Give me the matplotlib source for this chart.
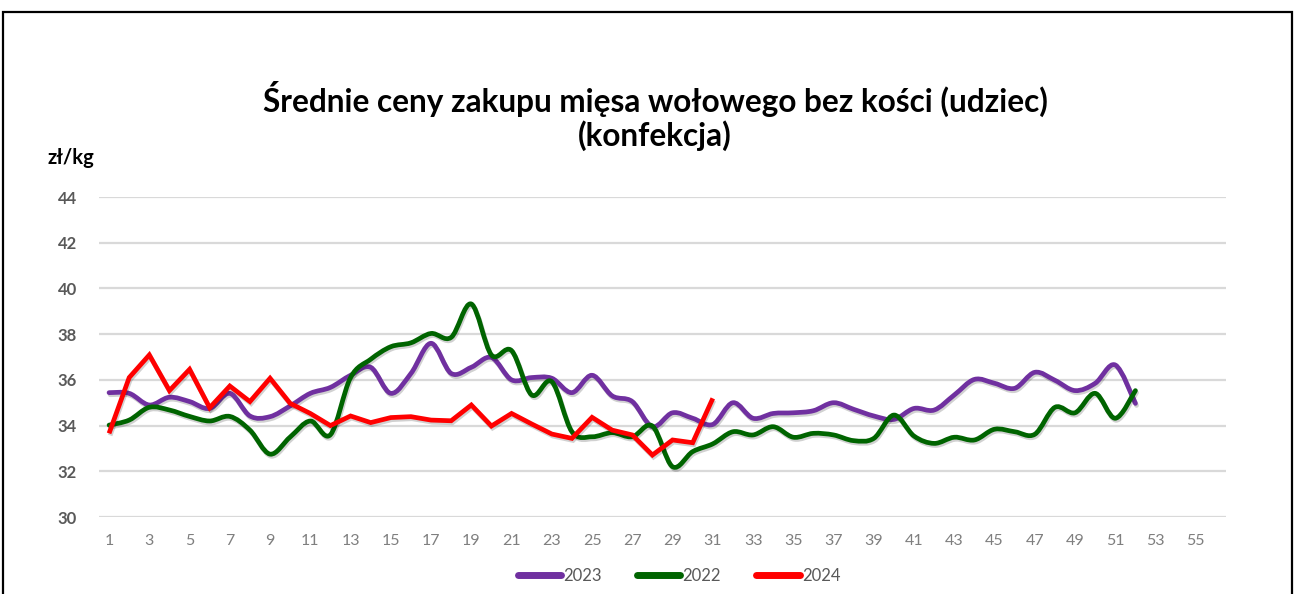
import numpy as np
import matplotlib
matplotlib.use("Agg")
import matplotlib.pyplot as plt
from matplotlib.path import Path
from matplotlib.patches import PathPatch, Rectangle
from matplotlib.lines import Line2D
import matplotlib.patheffects as pe

plt.rcParams['font.family'] = ['Lato', 'DejaVu Sans']

# ------------------------
# Data: average purchase prices (zl/kg) per week
# ------------------------
weeks_2023 = list(range(1, 53))
price_2023 = [35.44, 35.41, 34.90, 35.24, 35.05, 34.75, 35.41, 34.42, 34.39, 34.86,
              35.41, 35.67, 36.20, 36.55, 35.41, 36.28, 37.60, 36.28, 36.55, 36.98,
              36.00, 36.10, 36.07, 35.44, 36.20, 35.30, 35.05, 33.95, 34.56, 34.32,
              34.05, 35.00, 34.32, 34.53, 34.56, 34.65, 35.00, 34.71, 34.42, 34.27,
              34.75, 34.68, 35.34, 36.02, 35.85, 35.63, 36.33, 35.98, 35.53, 35.85,
              36.65, 34.97]

weeks_2022 = list(range(1, 53))
price_2022 = [34.02, 34.24, 34.80, 34.68, 34.40, 34.20, 34.40, 33.80, 32.75, 33.50,
              34.20, 33.60, 36.10, 36.90, 37.45, 37.62, 38.03, 37.86, 39.32, 37.09,
              37.28, 35.34, 35.92, 33.73, 33.51, 33.69, 33.51, 33.98, 32.20, 32.86,
              33.20, 33.73, 33.59, 33.95, 33.49, 33.66, 33.59, 33.34, 33.44, 34.46,
              33.54, 33.22, 33.49, 33.37, 33.84, 33.73, 33.62, 34.80, 34.56, 35.41,
              34.32, 35.53]

weeks_2024 = list(range(1, 32))
price_2024 = [33.66, 36.10, 37.09, 35.53, 36.46, 34.78, 35.73, 35.05, 36.07, 34.97,
              34.53, 34.00, 34.42, 34.13, 34.35, 34.39, 34.24, 34.21, 34.90, 33.98,
              34.53, 34.07, 33.63, 33.44, 34.36, 33.80, 33.59, 32.71, 33.37, 33.25,
              35.19]

x_ticks = list(range(1, 56, 2))
y_ticks = [30, 32, 34, 36, 38, 40, 42, 44]

title_1 = "Średnie ceny zakupu mięsa wołowego bez kości (udziec)"
title_2 = "(konfekcja)"
unit_label = "zł/kg"

c2023 = '#7030A0'
c2022 = '#006400'
c2024 = '#FF0000'


def smooth_path(xs, ys):
    # Excel-style smoothed line: cubic Bezier through every data point
    p = np.column_stack([xs, ys]).astype(float)
    n = len(p)
    verts = [p[0]]
    codes = [Path.MOVETO]
    for i in range(n - 1):
        p0 = p[i - 1] if i > 0 else p[i]
        p3 = p[i + 2] if i + 2 < n else p[i + 1]
        c1 = p[i] + (p[i + 1] - p0) / 6.0
        c2 = p[i + 1] - (p3 - p[i]) / 6.0
        verts += [c1, c2, p[i + 1]]
        codes += [Path.CURVE4] * 3
    return Path(verts, codes)


shadow = [pe.SimpleLineShadow(offset=(0.8, -1.5), alpha=0.18, shadow_color='black'), pe.Normal()]

fig = plt.figure(figsize=(12.96, 5.94), dpi=100)
ax = fig.add_axes([99 / 1296, 1 - 517 / 594, 1127 / 1296, 320 / 594])

for xs, ys, col in [(weeks_2023, price_2023, c2023), (weeks_2022, price_2022, c2022)]:
    patch = PathPatch(smooth_path(xs, ys), facecolor='none', edgecolor=col, lw=3.4,
                      capstyle='round', joinstyle='round', path_effects=shadow, zorder=3)
    ax.add_patch(patch)

ax.plot(weeks_2024, price_2024, color=c2024, lw=3.4, solid_joinstyle='miter',
        solid_capstyle='butt', path_effects=shadow, zorder=4)

ax.set_xlim(0.5, 56.5)
ax.set_ylim(30, 44)
ax.set_xticks(x_ticks)
ax.set_yticks(y_ticks)
ax.tick_params(axis='both', length=0)
ax.tick_params(axis='x', labelsize=11.5, labelcolor='#7f7f7f', pad=12)
ax.tick_params(axis='y', labelsize=12, labelcolor='#595959', pad=16)
for lab in ax.get_yticklabels():
    lab.set_fontweight('bold')
ax.grid(axis='y', color='#d9d9d9', lw=1.6)
ax.set_axisbelow(True)
for s in ax.spines.values():
    s.set_visible(False)

fig.text(655 / 1296, 1 - 99 / 594, title_1, ha='center', va='center', fontsize=22.7,
         fontweight='bold', color='black')
fig.text(655 / 1296, 1 - 136 / 594, title_2, ha='center', va='center', fontsize=22.7,
         fontweight='bold', color='black')
fig.text(47 / 1296, 1 - 158 / 594, unit_label, ha='left', va='center', fontsize=14.5,
         fontweight='bold', color='black')

handles = [Line2D([], [], color=c, lw=5, solid_capstyle='round') for c in (c2023, c2022, c2024)]
fig.legend(handles, ['2023', '2022', '2024'], loc='center', bbox_to_anchor=(679 / 1296, 1 - 576 / 594),
           ncol=3, frameon=False, fontsize=12, handlelength=2.6, handletextpad=0.15,
           columnspacing=2.1, labelcolor='#595959')

# black outer border of the chart
fig.patches.append(Rectangle((3 / 1296, -0.1), 1289 / 1296, 1.1 - 12 / 594, transform=fig.transFigure,
                             fill=False, edgecolor='black', lw=1.6))

fig.savefig('out.png', dpi=100)
